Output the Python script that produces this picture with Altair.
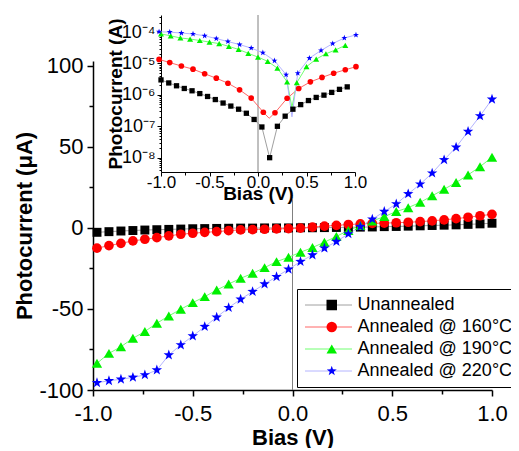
import altair as alt
import pandas as pd

FONT = "Liberation Sans"

series_names = ["Unannealed", "Annealed @ 160°C", "Annealed @ 190°C", "Annealed @ 220°C"]
marker_colors = ["#000000", "#ff0000", "#00f000", "#0000ff"]
line_colors = ["#a0a0a0", "#ff6666", "#70ff70", "#b4b4ff"]
STAR = ("M0,-1L0.235,-0.324L0.951,-0.309L0.38,0.124L0.588,0.809L0,0.4"
        "L-0.588,0.809L-0.38,0.124L-0.951,-0.309L-0.235,-0.324Z")
marker_shapes = ["square", "circle", "triangle-up", STAR]
main_sizes = [80, 120, 150, 190]
inset_sizes = [28, 40, 48, 60]

# ---- main panel: photocurrent (uA) vs bias (V)
bias_main = [-0.98, -0.92, -0.86, -0.80, -0.74, -0.68, -0.62, -0.56, -0.50, -0.44,
             -0.38, -0.32, -0.26, -0.20, -0.14, -0.08, -0.02, 0.04, 0.10, 0.16,
             0.22, 0.28, 0.34, 0.40, 0.46, 0.52, 0.58, 0.64, 0.70, 0.76,
             0.82, 0.88, 0.94, 1.00]
current_unannealed = [-2.7, -2.3, -1.9, -1.6, -1.3, -1.1, -0.9, -0.7, -0.5, -0.4,
                      -0.3, -0.2, -0.1, -0.1, 0.0, 0.0, 0.0, 0.1, 0.1, 0.2,
                      0.3, 0.4, 0.5, 0.6, 0.8, 0.9, 1.1, 1.3, 1.5, 1.7,
                      1.9, 2.2, 2.5, 2.9]
current_160 = [-12.5, -10.9, -9.5, -8.0, -7.0, -6.0, -4.9, -3.9, -3.3, -2.7,
               -2.3, -1.7, -1.2, -1.0, -0.8, -0.6, -0.4, -0.1, 0.5, 1.1,
               1.6, 2.1, 2.5, 2.8, 3.0, 3.2, 3.5, 3.9, 4.4, 5.0,
               5.7, 6.6, 7.5, 8.4]
current_190 = [-83.5, -77.4, -73.3, -68.1, -63.9, -58.8, -54.3, -50.2, -46.1, -42.4,
               -38.3, -34.6, -31.1, -28.0, -24.5, -20.8, -18.1, -15.0, -12.1, -8.8,
               -5.2, -1.6, 1.5, 4.3, 7.0, 10.1, 12.5, 15.8, 19.8, 23.9,
               28.0, 32.7, 37.8, 43.6]
current_220 = [-95.5, -94.3, -93.4, -92.2, -90.7, -87.7, -78.4, -72.2, -66.7, -60.9,
               -55.1, -49.2, -44.0, -39.3, -34.6, -30.1, -25.5, -20.8, -16.7, -12.5,
               -8.4, -3.7, 0.8, 5.4, 10.1, 14.8, 21.0, 27.0, 33.8, 42.0,
               49.8, 59.5, 69.1, 79.4]
zero_line = {"bias": [0.0], "low": [-100.0], "high": [18.0]}

# ---- inset: |photocurrent| (A), log scale
inset_bias_unannealed = [-1.00, -0.92, -0.84, -0.76, -0.68, -0.60, -0.52, -0.44, -0.36, -0.28,
                         -0.20, -0.12, -0.04, 0.04, 0.12, 0.20, 0.28, 0.36, 0.44, 0.52,
                         0.60, 0.68, 0.76, 0.84, 0.92]
inset_unannealed = [3.0e-6, 2.4e-6, 1.95e-6, 1.6e-6, 1.35e-6, 1.1e-6, 8.9e-7, 7.1e-7, 5.5e-7, 4.4e-7,
                    3.5e-7, 2.6e-7, 1.65e-7, 9.5e-8, 1.0e-8, 1.0e-7, 2.1e-7, 3.5e-7, 4.9e-7, 6.6e-7,
                    8.3e-7, 9.8e-7, 1.2e-6, 1.5e-6, 1.8e-6]
inset_bias_160 = [-1.02, -0.91, -0.79, -0.67, -0.55, -0.43, -0.31, -0.19, -0.07, 0.055,
                  0.175, 0.30, 0.42, 0.54, 0.66, 0.78, 0.90, 1.01]
inset_160 = [1.35e-5, 1.07e-5, 8.3e-6, 6.6e-6, 4.7e-6, 3.4e-6, 2.35e-6, 1.45e-6, 7.9e-7, 2.8e-7,
             2.7e-7, 7.8e-7, 1.6e-6, 2.6e-6, 3.6e-6, 4.9e-6, 6.3e-6, 7.9e-6]
inset_bias_190 = [-1.0, -0.9, -0.8, -0.7, -0.6, -0.5, -0.4, -0.3, -0.2, -0.1,
                  0.0, 0.1, 0.2, 0.3, 0.4, 0.5, 0.6, 0.7, 0.8, 0.9]
inset_190 = [8.7e-5, 7.6e-5, 6.5e-5, 6.0e-5, 5.4e-5, 4.8e-5, 4.3e-5, 3.5e-5, 2.8e-5, 2.1e-5,
             1.6e-5, 1.17e-5, 7.1e-6, 2.6e-6, 2.45e-6, 7.9e-6, 1.38e-5, 2.04e-5, 2.7e-5, 3.8e-5]
inset_bias_220 = [-1.02, -0.91, -0.79, -0.67, -0.55, -0.43, -0.31, -0.19, -0.07, 0.05,
                  0.17, 0.29, 0.41, 0.53, 0.65, 0.77, 0.89, 1.01]
inset_220 = [1.02e-4, 1.0e-4, 9.3e-5, 8.7e-5, 7.6e-5, 6.2e-5, 5.0e-5, 4.0e-5, 3.1e-5, 2.2e-5,
             1.23e-5, 4.4e-6, 4.9e-6, 1.48e-5, 2.6e-5, 4.3e-5, 6.5e-5, 8.1e-5]
# line-only vertices (curve minima between plotted markers)
dip_series = [series_names[1], series_names[2], series_names[3]]
dip_bias = [0.115, 0.35, 0.35]
dip_value = [1.8e-7, 4.0e-7, 2.0e-7]
inset_zero_line = {"bias": [0.0], "low": [3.5e-9], "high": [3.5e-4]}

main_ticks_x = [-1.0, -0.5, 0.0, 0.5, 1.0]
minor_ticks_x = [-0.75, -0.25, 0.25, 0.75]
main_ticks_y = [-100, -50, 0, 50, 100]
minor_ticks_y = [-75, -25, 25, 75]
inset_ticks_y = [1e-8, 1e-7, 1e-6, 1e-5, 1e-4]
inset_minor_y = [4e-9, 5e-9, 6e-9, 7e-9, 8e-9, 9e-9,
                 2e-8, 3e-8, 4e-8, 5e-8, 6e-8, 7e-8, 8e-8, 9e-8,
                 2e-7, 3e-7, 4e-7, 5e-7, 6e-7, 7e-7, 8e-7, 9e-7,
                 2e-6, 3e-6, 4e-6, 5e-6, 6e-6, 7e-6, 8e-6, 9e-6,
                 2e-5, 3e-5, 4e-5, 5e-5, 6e-5, 7e-5, 8e-5, 9e-5,
                 2e-4, 3e-4]

# line-legend keys: same names with a trailing space so the line legend stays separate
line_names = [n + " " for n in series_names]

# ---- tables
rows = []
for name, lname, vals in zip(series_names, line_names,
                             [current_unannealed, current_160, current_190, current_220]):
    for b, v in zip(bias_main, vals):
        rows.append({"bias": b, "current": v, "series": name, "series_line": lname})
main_df = pd.DataFrame(rows)

rows = []
for name, lname, bs, vals in zip(series_names, line_names,
                                 [inset_bias_unannealed, inset_bias_160, inset_bias_190, inset_bias_220],
                                 [inset_unannealed, inset_160, inset_190, inset_220]):
    for b, v in zip(bs, vals):
        rows.append({"bias": b, "current": v, "series": name, "series_line": lname})
inset_df = pd.DataFrame(rows)
dip_df = pd.DataFrame({"bias": dip_bias, "current": dip_value, "series": dip_series,
                       "series_line": [n + " " for n in dip_series]})
inset_line_df = pd.concat([inset_df, dip_df]).sort_values(["series", "bias"]).reset_index(drop=True)

# ---- scales
x_main = alt.Scale(domain=[-1, 1], nice=False, zero=False)
y_main = alt.Scale(domain=[-100, 103], nice=False, zero=False)
x_in = alt.Scale(domain=[-1, 1], range=[68, 262], nice=False, zero=False)
y_in = alt.Scale(type="log", domain=[3.5e-9, 3.5e-4], range=[111, -46], nice=False)
stroke_scale = alt.Scale(domain=line_names, range=line_colors)
fill_scale = alt.Scale(domain=series_names, range=marker_colors)
shape_scale = alt.Scale(domain=series_names, range=marker_shapes)

MINUS_FIX = "replace(datum.label, '\u2212', '-')"
common_axis = dict(grid=False, tickColor="black", domainColor="black", labelColor="black",
                   titleColor="black", labelFont=FONT, titleFont=FONT, titleFontWeight="bold",
                   labelFlush=False, labelOverlap=False)

ax_main_x = alt.Axis(values=main_ticks_x, format=".1f", labelExpr=MINUS_FIX, title="Bias (V)",
                     orient="bottom", tickSize=6, tickWidth=1.5, domainWidth=1.5,
                     labelFontSize=22, labelPadding=7, titleFontSize=22, titlePadding=3,
                     **common_axis)
ax_main_y = alt.Axis(values=main_ticks_y, labelExpr=MINUS_FIX, title="Photocurrent (μA)",
                     orient="left", tickSize=6, tickWidth=1.5, domainWidth=1.5,
                     labelFontSize=22, labelPadding=4, titleFontSize=22, titlePadding=2,
                     **common_axis)
ax_minor_x = alt.Axis(values=minor_ticks_x, labels=False, title=None, orient="bottom",
                      tickSize=4, tickWidth=1.5, domain=False, grid=False, tickColor="black")
ax_minor_y = alt.Axis(values=minor_ticks_y, labels=False, title=None, orient="left",
                      tickSize=4, tickWidth=1.5, domain=False, grid=False, tickColor="black")

sup_expr = ("'10\u207b' + ['\u2070','\u00b9','\u00b2','\u00b3','\u2074','\u2075','\u2076',"
            "'\u2077','\u2078','\u2079'][round(-log(datum.value)/LN10)]")
ax_in_x = alt.Axis(values=main_ticks_x, format=".1f", labelExpr=MINUS_FIX, title="Bias (V)",
                   orient="bottom", offset=-218, tickSize=4, tickWidth=1, domainWidth=1,
                   labelFontSize=17, labelPadding=-2, titleFontSize=19, titlePadding=-6,
                   **common_axis)
ax_in_y = alt.Axis(values=inset_ticks_y, labelExpr=sup_expr, title="Photocurrent (A)",
                   orient="left", offset=-68, tickSize=4, tickWidth=1, domainWidth=1,
                   labelFontSize=18, labelPadding=2, titleFontSize=19, titlePadding=-4,
                   **common_axis)
ax_in_minor_x = alt.Axis(values=minor_ticks_x, labels=False, title=None, orient="bottom",
                         offset=-218, tickSize=3, tickWidth=1, domain=False, grid=False,
                         tickColor="black")
ax_in_minor_y = alt.Axis(values=inset_minor_y, labels=False, title=None, orient="left",
                         offset=-68, tickSize=2, tickWidth=1, domain=False, grid=False,
                         tickColor="black")

# ---- legends (line legend underneath, marker legend on top)
LX, LY = 204, 228
line_legend = alt.Legend(orient="none", legendX=LX, legendY=LY, title=None,
                         symbolType="stroke", symbolSize=2209, symbolStrokeWidth=1,
                         symbolOffset=2.5, labelOffset=5, labelFont=FONT, labelFontSize=18,
                         labelColor="black", labelLimit=300, padding=5, clipHeight=22,
                         rowPadding=0, strokeColor="black", zindex=1)
point_legend = alt.Legend(orient="none", legendX=LX, legendY=LY, title=None,
                          symbolSize=110, symbolOffset=20.75, labelExpr="''",
                          labelFontSize=18, padding=5, clipHeight=22, rowPadding=0, zindex=2)

# ---- main panel
main_rule = alt.Chart(pd.DataFrame(zero_line)).mark_rule(color="#808080", strokeWidth=1).encode(
    x=alt.X("bias:Q", scale=x_main, axis=ax_minor_x),
    y=alt.Y("low:Q", scale=y_main, axis=ax_minor_y),
    y2="high:Q",
)
main_lines = alt.Chart(main_df).mark_line(strokeWidth=1).encode(
    x=alt.X("bias:Q", scale=x_main, axis=ax_main_x),
    y=alt.Y("current:Q", scale=y_main, axis=ax_main_y),
    stroke=alt.Stroke("series_line:N", scale=stroke_scale, legend=line_legend),
    order="bias:Q",
)
main_points = alt.Chart(main_df).mark_point(filled=True, opacity=1, strokeWidth=0).encode(
    x=alt.X("bias:Q", scale=x_main, axis=None),
    y=alt.Y("current:Q", scale=y_main, axis=None),
    fill=alt.Fill("series:N", scale=fill_scale, legend=point_legend),
    shape=alt.Shape("series:N", scale=shape_scale, legend=point_legend),
    size=alt.Size("series:N", scale=alt.Scale(domain=series_names, range=main_sizes), legend=None),
)
main = alt.layer(main_rule, main_lines, main_points).resolve_axis(x="independent", y="independent")

# ---- inset panel
inset_rule = alt.Chart(pd.DataFrame(inset_zero_line)).mark_rule(color="#808080", strokeWidth=1).encode(
    x=alt.X("bias:Q", scale=x_in, axis=ax_in_minor_x),
    y=alt.Y("low:Q", scale=y_in, axis=ax_in_minor_y),
    y2="high:Q",
)
inset_lines = alt.Chart(inset_line_df).mark_line(strokeWidth=1).encode(
    x=alt.X("bias:Q", scale=x_in, axis=ax_in_x),
    y=alt.Y("current:Q", scale=y_in, axis=ax_in_y),
    stroke=alt.Stroke("series_line:N", scale=stroke_scale, legend=None),
    order="bias:Q",
)
inset_points = alt.Chart(inset_df).mark_point(filled=True, opacity=1, strokeWidth=0).encode(
    x=alt.X("bias:Q", scale=x_in, axis=None),
    y=alt.Y("current:Q", scale=y_in, axis=None),
    fill=alt.Fill("series:N", scale=fill_scale, legend=None),
    shape=alt.Shape("series:N", scale=shape_scale, legend=None),
    size=alt.Size("series:N", scale=alt.Scale(domain=series_names, range=inset_sizes), legend=None),
)
inset = alt.layer(inset_rule, inset_lines, inset_points).resolve_axis(x="independent", y="independent")

chart = alt.layer(main, inset).resolve_scale(
    x="independent", y="independent", size="independent"
).properties(
    width=399, height=329,
    autosize=alt.AutoSizeParams(type="none"),
    padding={"left": 85, "top": 53, "right": 19, "bottom": 58},
).configure_view(stroke=None)

chart.save("out.html", embed_options={"renderer": "svg", "actions": False})
